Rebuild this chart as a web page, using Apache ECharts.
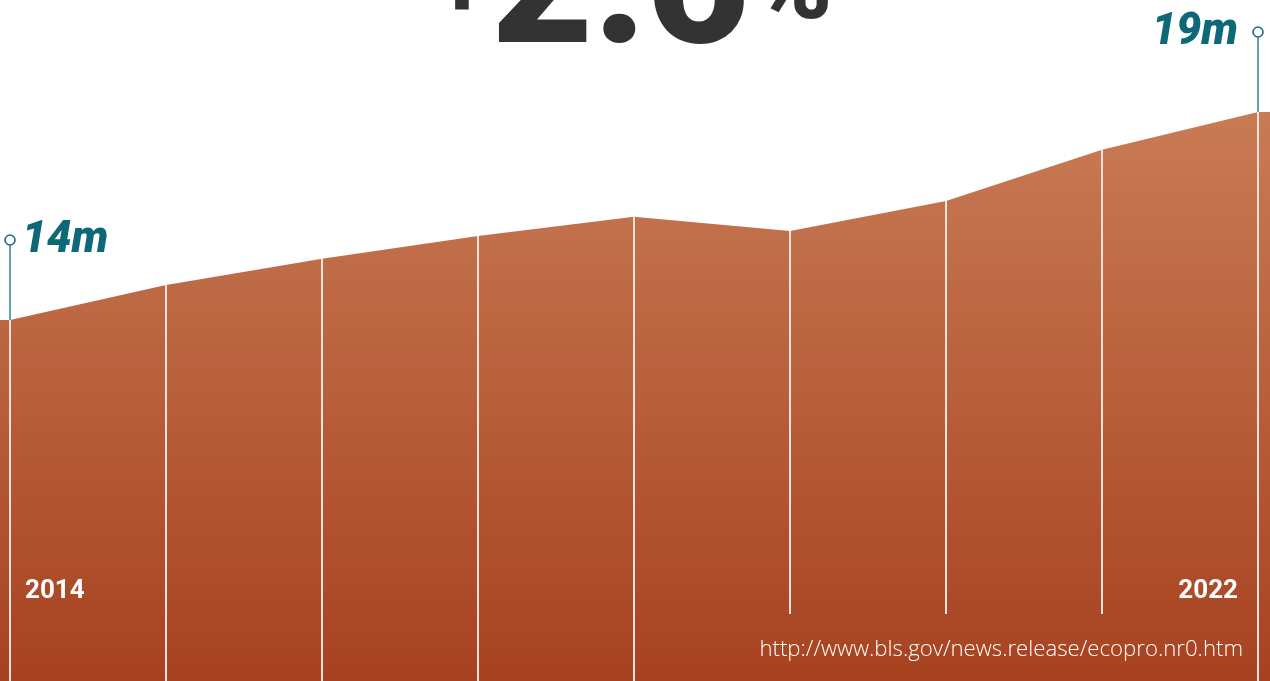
<!DOCTYPE html>
<html><head><meta charset="utf-8">
<script src="https://cdn.jsdelivr.net/npm/echarts@6/dist/echarts.min.js"></script>
<style>html,body{margin:0;padding:0;background:#fff;overflow:hidden}#c{width:1270px;height:681px;}</style>
</head><body><div id="c"></div>
<script>
// ---- data ----
const years = ['2014', '2015', '2016', '2017', '2018', '2019', '2020', '2021', '2022'];
const values = [14.0, 14.84, 15.47, 16.02, 16.48, 16.14, 16.86, 18.09, 19.0];
const endLabels = ['14m', '19m'];
const headSign = '+';
const headNumber = '2.6';
const headUnit = '%';
const sourceText = 'http://www.bls.gov/news.release/ecopro.nr0.htm';
const shortLineIdx = [5, 6, 7];

// ---- layout helpers ----
const W = 1270, H = 681;
const xMin = -10 / 156, xMax = (years.length - 1) + 12 / 156;
const yMin = 5.322, yMax = 21.692;
const last = values.length - 1;

const areaData = [[xMin, values[0]]]
  .concat(values.map((v, i) => [i, v]))
  .concat([[xMax, values[last]]]);

const annData = [
  [0, values[0], endLabels[0], years[0], 'left'],
  [last, values[last], endLabels[1], years[last], 'right']
];

const chart = echarts.init(document.getElementById('c'), null, {renderer: 'canvas'});
chart.setOption({
  animation: false,
  backgroundColor: '#ffffff',
  grid: {left: 0, right: 0, top: 0, bottom: 0},
  xAxis: {type: 'value', min: xMin, max: xMax, show: false},
  yAxis: {type: 'value', min: yMin, max: yMax, show: false},
  graphic: [
    {type: 'text', x: 620, y: -2, style: {text: headNumber, fill: '#333333', font: '900 176px Roboto', textAlign: 'center', textVerticalAlign: 'middle'}},
    {type: 'text', x: 793, y: -9, style: {text: headUnit, fill: '#333333', font: '900 106px Roboto', textAlign: 'center', textVerticalAlign: 'middle'}},
    {type: 'text', x: 462, y: -6, style: {text: headSign, fill: '#333333', font: '900 88px Roboto', textAlign: 'center', textVerticalAlign: 'middle'}},
    {type: 'text', x: 1243, y: 650, z: 10, style: {text: sourceText, fill: '#ffffff', font: '300 22.2px "Open Sans"', textAlign: 'right', textVerticalAlign: 'middle'}}
  ],
  series: [
    {
      type: 'line',
      data: areaData,
      symbol: 'none',
      lineStyle: {width: 0},
      areaStyle: {
        origin: 'start',
        opacity: 1,
        color: new echarts.graphic.LinearGradient(0, 0, 0, 1, [
          {offset: 0, color: '#c97b56'},
          {offset: 1, color: '#a74220'}
        ])
      },
      z: 1
    },
    {
      type: 'custom',
      data: values.map((v, i) => [i, v]),
      z: 3,
      renderItem: function (params, api) {
        const i = api.value(0);
        const p = api.coord([i, api.value(1)]);
        const bottom = shortLineIdx.indexOf(i) >= 0 ? 614 : H;
        return {type: 'line', shape: {x1: p[0], y1: p[1], x2: p[0], y2: bottom},
          style: {stroke: 'rgba(250,232,226,0.95)', lineWidth: 2}};
      }
    },
    {
      type: 'custom',
      data: annData,
      z: 5,
      renderItem: function (params, api) {
        const d = annData[params.dataIndex];
        const p = api.coord([d[0], d[1]]);
        const left = d[4] === 'left';
        const cy = p[1] - 80;
        return {type: 'group', children: [
          {type: 'line', shape: {x1: p[0], y1: p[1], x2: p[0], y2: cy + 5}, style: {stroke: '#3f8a98', lineWidth: 1.6}},
          {type: 'circle', shape: {cx: p[0], cy: cy, r: 5}, style: {fill: '#ffffff', stroke: '#1d6f7e', lineWidth: 1.6}},
          {type: 'text', x: left ? p[0] + 12 : p[0] - 20, y: cy + 1,
            style: {text: d[2], fill: '#0e6878', font: 'italic 900 44px Roboto', textAlign: left ? 'left' : 'right', textVerticalAlign: 'middle'}},
          {type: 'text', x: left ? p[0] + 15 : p[0] - 20, y: 591,
            style: {text: d[3], fill: '#ffffff', font: 'bold 26px Roboto', textAlign: left ? 'left' : 'right', textVerticalAlign: 'middle'}}
        ]};
      }
    }
  ]
});
</script>
</body></html>
